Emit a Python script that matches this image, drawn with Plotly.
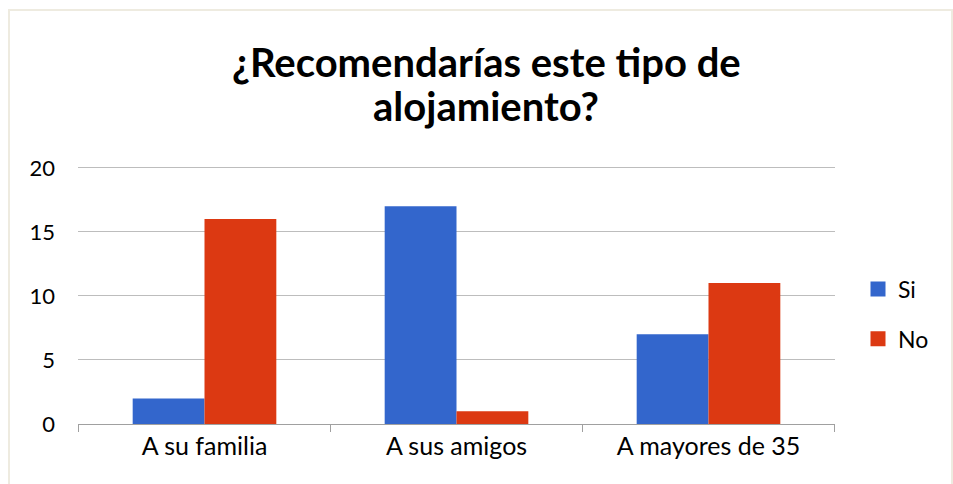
import plotly.graph_objects as go

categories = ["A su familia", "A sus amigos", "A mayores de 35"]
si_values = [2, 17, 7]
no_values = [16, 1, 11]
y_ticks = [0, 5, 10, 15, 20]
series_names = ["Si", "No"]
series_colors = ["#3366CC", "#DC3912"]
title_lines = ["¿Recomendarías este tipo de", "alojamiento?"]

FONT = "Lato, Open Sans, sans-serif"

Y_TOP = 20.3
T = 164
PH = 484 - T - 60  # plot height in px


def py(pix):
    """pixel row -> paper y"""
    return (424 - pix) / PH


fig = go.Figure()
for name, vals, col in zip(series_names, [si_values, no_values], series_colors):
    fig.add_trace(go.Bar(name=name, x=categories, y=vals, marker_color=col,
                         marker_line_width=0, showlegend=False))
    fig.add_trace(go.Scatter(name=name, x=[None], y=[None], mode="markers",
                             marker=dict(symbol="square", size=15, color=col),
                             legendgroup=name, showlegend=True))

fig.update_layout(
    width=953, height=484,
    paper_bgcolor="white", plot_bgcolor="white",
    margin=dict(l=78, r=118, t=T, b=60),
    barmode="group", bargap=0.43, bargroupgap=0,
    font=dict(family=FONT, size=24, color="#000000"),
    legend=dict(
        x=(858 - 78) / 757, xanchor="left", y=py(314), yanchor="middle",
        font=dict(family=FONT, size=23), itemwidth=30, tracegroupgap=17,
        bgcolor="rgba(0,0,0,0)",
    ),
    xaxis=dict(
        showgrid=False, showline=True, linecolor="#A0A0A0", linewidth=1,
        ticks="outside", ticklen=0, tickfont=dict(size=25),
    ),
    yaxis=dict(
        range=[0, Y_TOP], tickvals=y_ticks, showgrid=True, gridcolor="#BDBDBD", gridwidth=1,
        zeroline=False, showline=False, ticks="", tickfont=dict(size=22),
        ticklabelstandoff=22,
    ),
    annotations=[
        dict(text="<b>%s</b>" % title_lines[0], xref="paper", yref="paper",
             x=(486 - 78) / 757, y=py(62), xanchor="center", yanchor="middle",
             showarrow=False, font=dict(family=FONT, size=40, color="#000000")),
        dict(text="<b>%s</b>" % title_lines[1], xref="paper", yref="paper",
             x=(486 - 78) / 757, y=py(106), xanchor="center", yanchor="middle",
             showarrow=False, font=dict(family=FONT, size=40, color="#000000")),
    ],
    shapes=[
        dict(type="rect", xref="paper", yref="paper",
             x0=(9 - 78) / 757, x1=(952 - 78) / 757, y0=py(490), y1=py(10),
             line=dict(color="#EEEBE0", width=2), fillcolor="rgba(0,0,0,0)", layer="below"),
    ] + [
        dict(type="line", xref="x", yref="paper", x0=i - 0.5, x1=i - 0.5, y0=0, y1=py(432),
             line=dict(color="#A0A0A0", width=1))
        for i in range(len(categories) + 1)
    ],
)

fig.write_html("out.html", config={"displayModeBar": False},
               post_script="document.body.style.margin='0';")
